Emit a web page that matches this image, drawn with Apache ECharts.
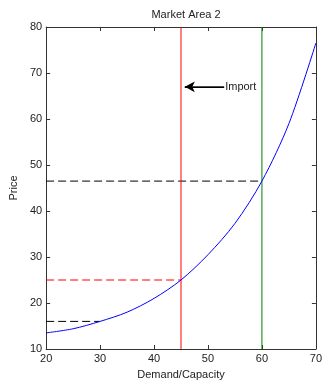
<!DOCTYPE html>
<html><head><meta charset="utf-8">
<script src="https://cdn.jsdelivr.net/npm/echarts@6/dist/echarts.min.js"></script>
<style>html,body{margin:0;padding:0;background:#fff}#c{width:325px;height:385px}</style>
</head><body><div id="c"></div>
<script>
const demand = [20, 25, 30, 35, 40, 45, 50, 55, 60, 65, 70];
const price = [13.5, 14.4, 16.0, 18.0, 21.0, 25.0, 30.5, 37.3, 46.5, 59.0, 76.5];
const xTicks = [20, 30, 40, 50, 60, 70];
const yTicks = [10, 20, 30, 40, 50, 60, 70, 80];
const importX = 45, exportX = 60;
const level60 = 46.5, level45 = 25, level30 = 16, level30x = 30;
const arrowFrom = [53, 67], arrowTo = [45.7, 67];
const labels = {title: 'Market Area 2', x: 'Demand/Capacity', y: 'Price', arrow: 'Import'};

const font = 'Arial, "Liberation Sans", sans-serif';
const axisCol = '#333';
const chart = echarts.init(document.getElementById('c'));
const base = {
  type: 'value',
  axisLine: {show: true, lineStyle: {color: axisCol, width: 1}},
  axisTick: {show: true, inside: true, length: 4, lineStyle: {color: axisCol}},
  splitLine: {show: false}
};
function seg(data, color, dashed, z) {
  return {type: 'line', showSymbol: false, silent: true, color: color, data: data, z: z || 2,
    itemStyle: {color: color},
    lineStyle: {color: color, width: 1, type: dashed ? [8, 4] : 'solid'}};
}
chart.setOption({
  animation: false,
  title: {text: labels.title, left: 181, top: 4, textAlign: 'center',
    textStyle: {fontFamily: font, fontSize: 11, fontWeight: 'normal', color: '#222'}},
  grid: {left: 45, right: 7, top: 27, bottom: 35},
  xAxis: [
    Object.assign({}, base, {min: xTicks[0], max: xTicks[xTicks.length-1], interval: 10, position: 'bottom',
      name: labels.x, nameLocation: 'middle', nameGap: 20,
      nameTextStyle: {fontFamily: font, fontSize: 11, color: '#222'},
      axisLabel: {fontFamily: font, fontSize: 11, color: '#222', margin: 4}}),
    Object.assign({}, base, {min: xTicks[0], max: xTicks[xTicks.length-1], interval: 10, position: 'top',
      axisLabel: {show: false}})
  ],
  yAxis: [
    Object.assign({}, base, {min: yTicks[0], max: yTicks[yTicks.length-1], interval: 10, position: 'left',
      name: labels.y, nameLocation: 'middle', nameGap: 27, nameRotate: 90,
      nameTextStyle: {fontFamily: font, fontSize: 11, color: '#222'},
      axisLabel: {fontFamily: font, fontSize: 11, color: '#222', margin: 4}}),
    Object.assign({}, base, {min: yTicks[0], max: yTicks[yTicks.length-1], interval: 10, position: 'right',
      axisLabel: {show: false}})
  ],
  series: [
    seg(demand.map((d, i) => [d, price[i]]), '#0000ff', false, 5),
    seg([[importX, yTicks[0]], [importX, yTicks[yTicks.length-1]]], '#ff0000', false, 3),
    seg([[exportX, yTicks[0]], [exportX, yTicks[yTicks.length-1]]], '#008000', false, 3),
    seg([[xTicks[0], level60], [exportX, level60]], '#000000', true),
    seg([[xTicks[0], level45], [importX, level45]], '#ff0000', true),
    seg([[xTicks[0], level30], [level30x, level30]], '#000000', true),
    Object.assign(seg([arrowFrom, arrowTo], '#000000', false, 4), {
      markLine: {silent: true, symbol: ['none', 'arrow'], symbolSize: [8, 10],
        lineStyle: {color: '#000', width: 1, type: 'solid'},
        label: {show: true, position: 'start', distance: 1, formatter: labels.arrow,
          fontFamily: font, fontSize: 11, color: '#222'},
        data: [[{coord: arrowFrom}, {coord: arrowTo}]]}})
  ]
});
chart.setOption({series: [{smooth: 0.3}]});
</script></body></html>
